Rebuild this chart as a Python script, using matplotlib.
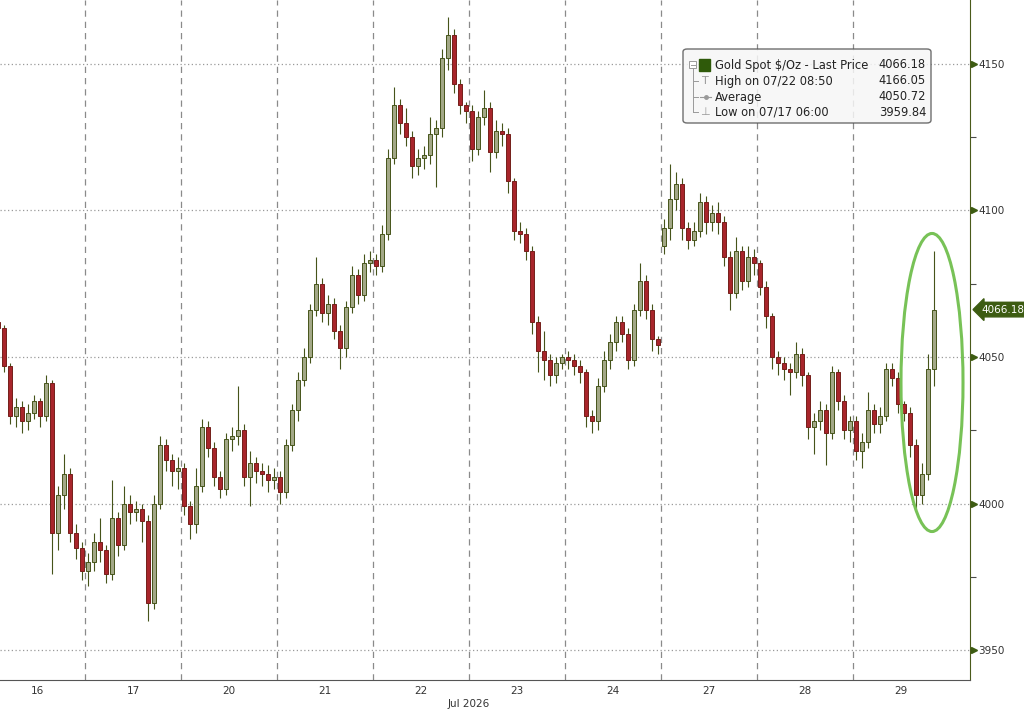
import numpy as np
import matplotlib
matplotlib.use("Agg")
import matplotlib.pyplot as plt
from matplotlib.patches import Ellipse, FancyBboxPatch, Rectangle
from matplotlib.lines import Line2D
from matplotlib.transforms import blended_transform_factory

nan = np.nan

# 30-ish minute bars, 16 slots per trading day
day_labels = ["16", "17", "20", "21", "22", "23", "24", "27", "28", "29"]
bars_per_day = 16

close = [
    nan, 4060, 4047, 4030, 4033, 4028, 4031, 4035, 4030, 4041, 3990, 4003, 4010, 3990, 3985, 3977,   # 16
    3980, 3987, 3984, 3976, 3995, 3986, 4000, 3997, 3998, 3994, 3966, 4000, 4020, 4015, 4011, 4012,  # 17
    3999, 3993, 4006, 4026, 4019, 4009, 4005, 4022, 4023, 4025, 4009, 4014, 4011, 4010, 4008, 4009,  # 20
    4004, 4020, 4032, 4042, 4050, 4066, 4075, 4065, 4068, 4059, 4053, 4067, 4078, 4071, 4082, 4083,  # 21
    4081, 4092, 4118, 4136, 4130, 4125, 4115, 4118, 4119, 4126, 4128, 4152, 4160, 4143, 4136, 4134,  # 22
    4121, 4132, 4135, 4120, 4127, 4126, 4110, 4093, 4092, 4086, 4062, 4052, 4049, 4044, 4048, 4050,  # 23
    4049, 4047, 4045, 4030, 4028, 4040, 4049, 4055, 4062, 4058, 4049, 4066, 4076, 4066, 4056, 4054,  # 24
    4094, 4104, 4109, 4094, 4090, 4093, 4103, 4096, 4099, 4096, 4084, 4072, 4086, 4076, 4084, 4082,  # 27
    4074, 4064, 4050, 4048, 4046, 4045, 4051, 4044, 4026, 4028, 4032, 4024, 4045, 4035, 4025, 4028,  # 28
    4018, 4021, 4032, 4027, 4030, 4046, 4043, 4034, 4031, 4020, 4003, 4010, 4046, 4066.18, nan, nan, # 29
]
high = [
    nan, 4063, 4061, 4048, 4036, 4035, 4034, 4037, 4036, 4044, 4042, 4006, 4017, 4012, 3993, 3987,
    3983, 3990, 3995, 3986, 4008, 3997, 4006, 4003, 4001, 4000, 3996, 4003, 4023, 4022, 4017, 4016,
    4014, 4001, 4012, 4029, 4028, 4021, 4011, 4024, 4026, 4040, 4027, 4018, 4016, 4014, 4013, 4012,
    4011, 4022, 4034, 4045, 4053, 4068, 4084, 4077, 4071, 4070, 4061, 4069, 4081, 4080, 4085, 4086,
    4085, 4095, 4121, 4142, 4138, 4135, 4127, 4121, 4122, 4132, 4131, 4155, 4166.05, 4162, 4145, 4137,
    4136, 4134, 4141, 4137, 4131, 4130, 4128, 4111, 4096, 4094, 4088, 4064, 4059, 4051, 4050, 4051,
    4052, 4051, 4049, 4046, 4032, 4043, 4052, 4058, 4064, 4064, 4060, 4068, 4082, 4078, 4068, 4057,
    4097, 4116, 4113, 4111, 4096, 4096, 4106, 4105, 4102, 4103, 4098, 4086, 4091, 4088, 4088, 4087,
    4083, 4076, 4065, 4052, 4050, 4048, 4055, 4053, 4045, 4031, 4035, 4034, 4047, 4046, 4037, 4030,
    4030, 4024, 4038, 4034, 4033, 4048, 4048, 4045, 4035, 4033, 4022, 4014, 4051, 4086, nan, nan,
]
low = [
    nan, 4057, 4045, 4027, 4026, 4024, 4025, 4029, 4026, 4028, 3976, 3984, 3998, 3987, 3981, 3974,
    3972, 3977, 3980, 3973, 3974, 3982, 3984, 3993, 3994, 3987, 3959.84, 3964, 3998, 4011, 4006, 4005,
    3996, 3988, 3990, 4004, 4016, 4006, 4002, 4003, 4018, 4020, 4006, 3999, 4007, 4006, 4004, 4005,
    4000, 4002, 4018, 4028, 4040, 4048, 4064, 4062, 4061, 4056, 4046, 4050, 4065, 4068, 4069, 4079,
    4078, 4079, 4090, 4116, 4126, 4122, 4111, 4112, 4114, 4116, 4108, 4125, 4148, 4140, 4133, 4130,
    4117, 4119, 4129, 4113, 4118, 4122, 4106, 4090, 4089, 4083, 4058, 4045, 4042, 4040, 4041, 4046,
    4046, 4044, 4041, 4026, 4024, 4025, 4038, 4046, 4052, 4055, 4046, 4047, 4064, 4063, 4052, 4051,
    4085, 4090, 4100, 4090, 4087, 4088, 4091, 4092, 4093, 4092, 4081, 4066, 4070, 4073, 4074, 4078,
    4071, 4060, 4046, 4044, 4042, 4037, 4043, 4040, 4022, 4017, 4025, 4013, 4022, 4032, 4022, 4021,
    4015, 4012, 4019, 4024, 4024, 4028, 4040, 4031, 4028, 4016, 3997, 4000, 4008, 4040, nan, nan,
]
first_open = 4062.0      # open of the first visible bar
reopen_day = 7           # Monday 27th opens with a weekend gap
reopen_open = 4088.0
last_price = 4066.18

legend_title = "Gold Spot $/Oz - Last Price"
legend_labels = ["High on 07/22 08:50", "Average", "Low on 07/17 06:00"]
legend_values = ["4066.18", "4166.05", "4050.72", "3959.84"]

UP_FACE, UP_EDGE = "#a3a887", "#46551a"
DN_FACE, DN_EDGE = "#a8252b", "#741f1a"
WICK = "#46541a"
GREEN_TAG = "#3d5c12"

close = np.array(close, float)
high = np.array(high, float)
low = np.array(low, float)
n = len(close)
xs = (np.arange(n) + 0.5) / bars_per_day

opens = np.r_[nan, close[:-1]]
valid = ~np.isnan(close)
opens[np.argmax(valid)] = first_open
opens[reopen_day * bars_per_day] = reopen_open

fig = plt.figure(figsize=(10.24, 7.10), dpi=100)
ax = fig.add_axes([0, 30 / 710, 970 / 1024, 680 / 710])

# wicks then bodies
ax.vlines(xs[valid], low[valid], high[valid], color=WICK, lw=0.8, zorder=2)
up = valid & (close >= opens)
dn = valid & (close < opens)
w = 0.78 / bars_per_day
for mask, fc, ec in ((up, UP_FACE, UP_EDGE), (dn, DN_FACE, DN_EDGE)):
    bottom = np.minimum(opens[mask], close[mask])
    height = np.maximum(np.abs(close[mask] - opens[mask]), 0.7)
    ax.bar(xs[mask], height, bottom=bottom, width=w, color=fc, edgecolor=ec,
           linewidth=0.7, zorder=3)

ax.set_xlim(11 / 96, 981 / 96)
ax.set_ylim(3939.8, 4171.8)

# grid
ax.set_yticks(np.arange(3950, 4151, 50))
ax.set_yticks(np.arange(3975, 4126, 50), minor=True)
ax.grid(axis="y", which="major", linestyle=(0, (1, 2)), color="#9a9a9a", lw=0.9, zorder=1)
for k in range(1, len(day_labels)):
    ax.axvline(k, color="#8a8a8a", lw=0.9, linestyle=(0, (5, 4)), zorder=1)

ax.yaxis.tick_right()
ax.tick_params(axis="y", which="major", length=0, pad=6, labelsize=7.5, labelcolor="#333333")
ax.tick_params(axis="y", which="minor", length=4, width=0.8, color="#4a4a4a", direction="out")
ax.set_xticks(np.arange(len(day_labels)) + 0.5)
ax.set_xticklabels(day_labels)
ax.tick_params(axis="x", length=0, pad=4, labelsize=7.5, labelcolor="#333333")

for s in ("top", "left"):
    ax.spines[s].set_visible(False)
ax.spines["right"].set_color("#4a5a1a")
ax.spines["bottom"].set_color("#555555")

ytr = blended_transform_factory(ax.transAxes, ax.transData)
ax.plot(np.full(5, 1.0 + 4 / 970), np.arange(3950, 4151, 50), ls="none", marker=">",
        ms=4.5, color=GREEN_TAG, transform=ytr, clip_on=False)

xtr = blended_transform_factory(ax.transData, ax.transAxes)
ax.text(5.0, -0.035, "Jul 2026", transform=xtr, ha="center", va="center",
        fontsize=7.5, color="#333333")

# last price tag
ax.text(1.0 + 11 / 970, last_price, f"{last_price:.2f}", transform=ytr, ha="left",
        va="center", fontsize=7.5, color="white", clip_on=False,
        bbox=dict(boxstyle="larrow,pad=0.22", fc=GREEN_TAG, ec=GREEN_TAG))

# highlight ellipse
ax.add_patch(Ellipse((9.823, 4041.3), 0.646, 101.7, fill=False, ec="#78c257", lw=2.2, zorder=5))


# legend box (figure pixel coords)
def fx(px):
    return px / 1024


def fy(py):
    return 1 - py / 710


fig.add_artist(FancyBboxPatch((fx(683), fy(123)), fx(248), 74 / 710,
                              boxstyle="round,pad=0,rounding_size=0.004",
                              transform=fig.transFigure, fc="#f6f6f6", ec="#555555",
                              lw=1.0, alpha=0.85, zorder=6))
rows_y = [65, 81, 97, 112]
txt_kw = dict(fontsize=8.3, color="#222222", va="center", zorder=7)
fig.text(fx(715), fy(rows_y[0]), legend_title, **txt_kw)
for yy, lab in zip(rows_y[1:], legend_labels):
    fig.text(fx(715), fy(yy), lab, **txt_kw)
for yy, val in zip(rows_y, legend_values):
    fig.text(fx(926), fy(yy), val, ha="right", **txt_kw)

gray = "#9a9a9a"
fig.add_artist(Rectangle((fx(689), fy(68)), fx(7), 7 / 710, transform=fig.transFigure,
                         fc="white", ec=gray, lw=0.7, zorder=7))
fig.add_artist(Line2D([fx(690.5), fx(694.5)], [fy(64.5)] * 2, transform=fig.transFigure,
                      color=gray, lw=0.7, zorder=7))
fig.add_artist(Rectangle((fx(699), fy(71)), fx(11), 12 / 710, transform=fig.transFigure,
                         fc="#2f5a0a", ec="#2f5a0a", zorder=7))
fig.add_artist(Line2D([fx(692.5)] * 2, [fy(68), fy(112)], transform=fig.transFigure,
                      color=gray, lw=0.7, zorder=7))
for yy in rows_y[1:]:
    fig.add_artist(Line2D([fx(692.5), fx(698)], [fy(yy)] * 2, transform=fig.transFigure,
                          color=gray, lw=0.7, zorder=7))
fig.text(fx(705), fy(rows_y[1]), "T", fontsize=8, color=gray, ha="center", va="center", zorder=7)
fig.add_artist(Line2D([fx(700), fx(711)], [fy(rows_y[2])] * 2, transform=fig.transFigure,
                      color=gray, lw=0.8, zorder=7))
fig.add_artist(Line2D([fx(705.5)], [fy(rows_y[2])], transform=fig.transFigure,
                      color=gray, marker="o", ms=2.5, zorder=7))
fig.text(fx(705), fy(rows_y[3]), "\u22a5", fontsize=8, color=gray, ha="center", va="center", zorder=7)

fig.savefig("out.png", dpi=100)
